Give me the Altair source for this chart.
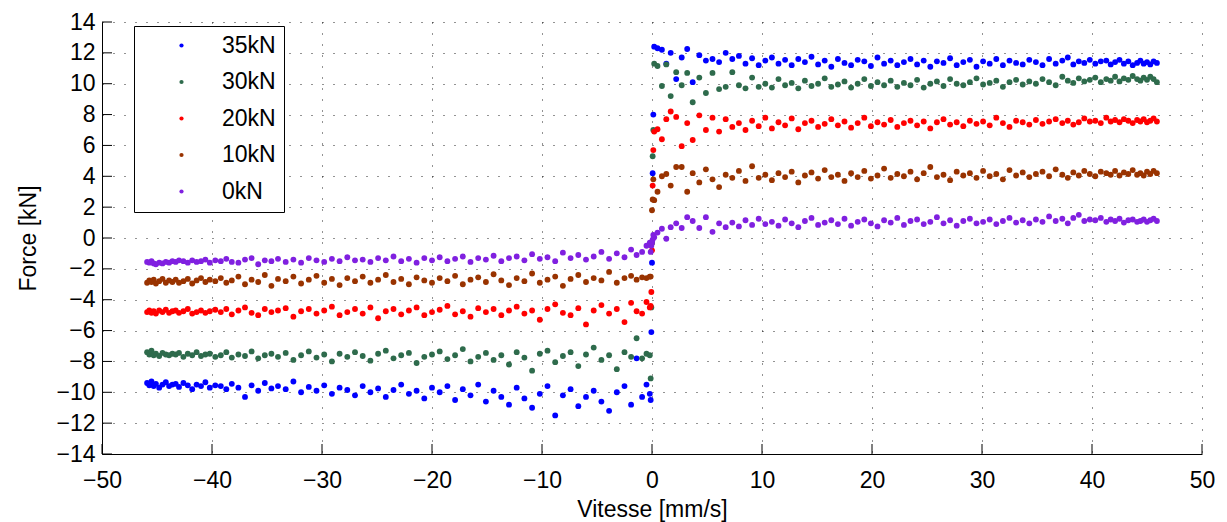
import altair as alt
import pandas as pd

# ---------------- data ----------------
series_names = ["35kN", "30kN", "20kN", "10kN", "0kN"]
series_colors = ["#0000ff", "#2e6b4c", "#ff0000", "#993300", "#8020e0"]

# velocity samples, negative branch
vit_neg = [
    -45.9, -45.7, -45.5, -45.3, -45.1, -44.8, -44.5, -44.2, -43.9, -43.6,
    -43.3, -43.0, -42.6, -42.2, -41.8, -41.4, -41.0, -40.6, -40.2, -39.7,
    -39.2, -38.7, -38.2, -37.6, -37.0, -36.4, -35.8, -35.2, -34.6, -34.0,
    -33.3, -32.6, -31.9, -31.2, -30.5, -29.8, -29.1, -28.4, -27.7, -27.0,
    -26.3, -25.6, -24.9, -24.2, -23.5, -22.8, -22.1, -21.4, -20.7, -20.0,
    -19.3, -18.6, -17.9, -17.2, -16.5, -15.8, -15.1, -14.4, -13.7, -13.0,
    -12.3, -11.6, -10.9, -10.2, -9.5, -8.8, -8.1, -7.4, -6.7, -6.0,
    -5.3, -4.6, -3.9, -3.2, -2.5, -1.9, -1.4, -0.9, -0.5, -0.2,
]
# velocity samples around zero (transition)
vit_zero = [-0.12, -0.06, 0.0, 0.06, 0.12]
# velocity samples, positive branch
vit_pos = [
    0.2, 0.5, 0.9, 1.3, 1.7, 2.2, 2.7, 3.2, 3.7, 4.3,
    4.9, 5.5, 6.1, 6.7, 7.3, 7.9, 8.5, 9.1, 9.7, 10.3,
    10.9, 11.5, 12.1, 12.7, 13.3, 13.9, 14.5, 15.1, 15.7, 16.3,
    16.9, 17.5, 18.1, 18.7, 19.3, 19.9, 20.5, 21.1, 21.7, 22.3,
    22.9, 23.5, 24.1, 24.7, 25.3, 25.9, 26.5, 27.1, 27.7, 28.3,
    28.9, 29.5, 30.1, 30.7, 31.3, 31.9, 32.5, 33.1, 33.7, 34.3,
    34.9, 35.5, 36.1, 36.7, 37.3, 37.8, 38.3, 38.8, 39.3, 39.8,
    40.3, 40.8, 41.3, 41.7, 42.1, 42.5, 42.9, 43.3, 43.7, 44.1,
    44.4, 44.7, 45.0, 45.3, 45.6, 45.9,
]

# forces [kN], negative branch
f35_neg = [
    -9.4, -9.55, -9.3, -9.6, -9.45, -9.7, -9.5, -9.35, -9.6, -9.5,
    -9.45, -9.65, -9.4, -9.55, -9.8, -9.5, -9.6, -9.35, -9.7, -9.55,
    -9.6, -9.8, -9.45, -9.7, -10.3, -9.55, -9.9, -9.4, -9.75, -9.6,
    -9.8, -9.3, -10.0, -9.65, -9.9, -9.55, -10.1, -9.7, -9.85, -10.2,
    -9.6, -10.0, -9.75, -10.3, -9.85, -9.5, -10.1, -9.9, -10.4, -9.7,
    -10.0, -9.6, -10.5, -9.8, -10.2, -9.5, -10.6, -9.9, -10.3, -10.8,
    -9.7, -10.4, -11.0, -10.1, -9.6, -11.5, -10.2, -9.8, -10.9, -10.3,
    -9.9, -10.6, -11.2, -10.0, -9.6, -10.8, -7.8, -10.3, -9.5, -10.1,
]
f30_neg = [
    -7.4, -7.55, -7.3, -7.6, -7.5, -7.65, -7.45, -7.55, -7.6, -7.5,
    -7.55, -7.45, -7.7, -7.5, -7.6, -7.4, -7.65, -7.55, -7.5, -7.7,
    -7.6, -7.4, -7.75, -7.55, -7.65, -7.35, -7.8, -7.6, -7.5, -7.7,
    -7.45, -7.9, -7.6, -7.35, -7.75, -7.55, -8.0, -7.5, -7.7, -7.4,
    -7.65, -7.95, -7.5, -7.3, -7.8, -7.6, -7.45, -8.1, -7.7, -7.55,
    -7.35, -7.85, -7.6, -7.2, -8.0, -7.7, -7.45, -7.9, -7.6, -8.2,
    -7.4, -7.75, -8.6, -7.5, -7.3, -8.05, -7.65, -7.4, -8.3, -7.55,
    -7.1, -7.9, -7.6, -8.5, -7.4, -7.7, -6.5, -7.8, -7.5, -7.6,
]
f20_neg = [
    -4.8, -4.7, -4.85, -4.75, -4.9, -4.7, -4.8, -4.65, -4.85, -4.75,
    -4.7, -4.85, -4.75, -4.6, -4.9, -4.8, -4.7, -4.85, -4.75, -4.65,
    -4.8, -4.6, -4.95, -4.7, -4.5, -4.85, -5.0, -4.6, -4.8, -4.7,
    -4.55, -5.1, -4.75, -4.6, -4.9, -4.7, -4.45, -5.0, -4.8, -4.6,
    -4.9, -4.5, -5.2, -4.75, -4.6, -4.95, -4.7, -4.5, -5.0, -4.8,
    -4.65, -4.4, -4.95, -4.75, -5.1, -4.55, -4.8, -4.6, -5.0, -4.7,
    -4.45, -4.9, -4.7, -5.3, -4.6, -4.3, -4.85, -5.0, -4.55, -5.6,
    -4.7, -4.35, -4.9, -4.6, -5.45, -4.2, -4.75, -4.9, -4.15, -4.5,
]
f10_neg = [
    -2.9, -2.75, -2.85, -2.7, -2.95, -2.8, -2.65, -2.9, -2.75, -2.85,
    -2.7, -2.9, -2.8, -2.65, -2.95, -2.75, -2.6, -2.85, -2.7, -2.8,
    -2.6, -2.9, -2.75, -2.5, -3.0, -2.7, -2.85, -2.4, -3.1, -2.65,
    -2.8, -2.5, -2.95, -2.7, -2.45, -2.9, -2.65, -3.05, -2.6, -2.8,
    -2.5, -2.9, -2.7, -2.4, -2.85, -2.65, -3.0, -2.55, -2.75, -2.9,
    -2.6, -2.8, -2.45, -3.0, -2.7, -2.55, -2.85, -2.35, -2.75, -3.05,
    -2.6, -2.8, -2.3, -2.9, -2.7, -2.5, -3.1, -2.65, -2.4, -2.85,
    -2.6, -2.75, -2.2, -2.9, -2.6, -2.45, -2.7, -2.55, -2.6, -2.5,
]
f0_neg = [
    -1.55, -1.6, -1.5, -1.65, -1.7, -1.6, -1.65, -1.55, -1.6, -1.5,
    -1.55, -1.45, -1.5, -1.6, -1.45, -1.55, -1.5, -1.4, -1.6, -1.45,
    -1.5, -1.35, -1.55, -1.6, -1.4, -1.3, -1.7, -1.45, -1.5, -1.35,
    -1.55, -1.4, -1.6, -1.3, -1.45, -1.55, -1.35, -1.5, -1.25, -1.45,
    -1.4, -1.55, -1.3, -1.45, -1.2, -1.5, -1.35, -1.6, -1.3, -1.45,
    -1.25, -1.5, -1.35, -1.2, -1.55, -1.3, -1.4, -1.15, -1.5, -1.3,
    -1.2, -1.45, -1.05, -1.35, -1.25, -1.5, -0.95, -1.3, -1.1, -1.4,
    -1.2, -0.9, -1.35, -1.0, -1.25, -0.75, -1.1, -0.9, -0.5, -0.3,
]

# forces [kN] around zero velocity
f35_zero = [-10.5, -6.1, -1.6, 4.2, 8.0]
f30_zero = [-9.1, -4.5, -0.3, 5.3, 7.0]
f20_zero = [-4.4, -3.5, -0.8, 3.4, 5.7]
f10_zero = [-2.5, -0.4, 1.8, 2.5, 3.8]
f0_zero = [-0.9, -0.5, -0.3, -0.1, 0.2]

# forces [kN], positive branch
f35_pos = [
    12.4, 12.3, 12.2, 11.3, 12.0, 10.3, 11.7, 12.25, 10.1, 11.85,
    11.5, 11.6, 11.4, 12.0, 11.6, 11.8, 11.3, 11.65, 11.2, 11.5,
    11.7, 11.3, 11.55, 11.2, 11.6, 11.4, 11.75, 11.25, 11.5, 11.1,
    11.6, 11.35, 11.2, 11.55, 11.45, 11.15, 11.7, 11.3, 11.5, 11.2,
    11.4, 11.6, 11.25, 11.5, 11.1, 11.45, 11.35, 11.65, 11.2, 11.4,
    11.55, 11.1, 11.45, 11.3, 11.6, 11.2, 11.5, 11.35, 11.25, 11.55,
    11.4, 11.2, 11.6, 11.3, 11.5, 11.7, 11.25, 11.45, 11.35, 11.55,
    11.3, 11.45, 11.5, 11.25, 11.4, 11.55, 11.3, 11.45, 11.2, 11.35,
    11.5, 11.3, 11.4, 11.25, 11.45, 11.35,
]
f30_pos = [
    11.3, 11.15, 9.85, 11.25, 9.2, 10.75, 9.9, 10.7, 8.8, 10.4,
    9.4, 10.7, 9.65, 9.8, 10.75, 9.9, 9.7, 10.4, 9.8, 10.0,
    9.75, 10.3, 9.9, 10.05, 9.7, 10.2, 9.85, 10.0, 10.35, 9.8,
    9.95, 10.15, 9.75, 10.0, 10.3, 9.85, 10.1, 9.9, 10.2, 9.8,
    10.05, 9.9, 10.25, 9.75, 10.0, 10.15, 9.85, 10.3, 10.0, 9.9,
    10.1, 10.35, 9.95, 10.05, 10.2, 9.8, 10.1, 10.25, 9.95, 10.15,
    10.0, 10.3, 10.1, 9.9, 10.45, 10.2, 10.05, 10.35, 10.15, 10.25,
    10.4, 10.1, 10.3, 10.2, 10.45, 10.15, 10.35, 10.25, 10.5, 10.3,
    10.2, 10.4, 10.25, 10.45, 10.3, 10.1,
]
f20_pos = [
    6.9, 7.05, 6.4, 7.7, 8.2, 7.85, 5.95, 7.45, 6.35, 7.95,
    7.0, 7.8, 6.9, 7.7, 7.2, 7.45, 7.0, 7.6, 7.25, 7.8,
    7.1, 7.5, 7.3, 7.75, 7.05, 7.45, 7.6, 7.2, 7.4, 7.7,
    7.3, 7.55, 7.15, 7.45, 7.8, 7.25, 7.5, 7.35, 7.65, 7.2,
    7.45, 7.6, 7.3, 7.55, 7.1, 7.5, 7.7, 7.35, 7.5, 7.25,
    7.6, 7.4, 7.55, 7.3, 7.8, 7.45, 7.2, 7.6, 7.5, 7.35,
    7.65, 7.4, 7.55, 7.7, 7.45, 7.6, 7.35, 7.5, 7.75, 7.55,
    7.6, 7.45, 7.8, 7.55, 7.65, 7.5, 7.7, 7.6, 7.45, 7.65,
    7.55, 7.7, 7.5, 7.6, 7.75, 7.55,
]
f10_pos = [
    2.45, 3.0, 4.0, 4.15, 3.4, 4.6, 4.6, 3.0, 4.2, 3.6,
    4.45, 3.8, 3.3, 4.1, 3.9, 4.35, 3.7, 4.65, 3.9, 4.1,
    3.75, 4.2, 3.95, 4.3, 3.6, 4.05, 4.25, 3.85, 4.4, 3.95,
    4.1, 3.7, 4.2, 3.95, 4.35, 3.85, 4.05, 4.5, 3.9, 4.15,
    4.0, 4.3, 3.8, 4.2, 4.6, 3.95, 4.1, 3.75, 4.3, 4.05,
    4.2, 3.9, 4.35, 4.0, 4.15, 3.8, 4.4, 4.05, 4.25, 3.95,
    4.15, 4.3, 4.0, 4.45, 4.1, 3.9, 4.25, 4.05, 4.35, 4.15,
    4.0, 4.3, 4.2, 4.1, 4.35, 4.05, 4.25, 4.15, 4.4, 4.1,
    4.2, 4.05, 4.3, 4.15, 4.35, 4.2,
]
f0_pos = [
    0.05, 0.35, 0.6, -0.05, 0.7, 0.95, 0.65, 1.35, 1.1, 0.65,
    1.35, 0.4, 0.95, 0.7, 1.0, 0.75, 1.15, 0.85, 1.25, 0.9,
    1.05, 0.8, 1.2, 0.95, 0.7, 1.1, 1.3, 0.85, 1.0, 1.15,
    0.9, 1.25, 0.8, 1.05, 1.2, 0.95, 0.75, 1.15, 1.0, 1.3,
    0.85, 1.1, 1.2, 0.9, 1.05, 1.35, 0.95, 1.15, 0.8, 1.1,
    1.25, 0.95, 1.05, 1.2, 0.9, 1.1, 1.3, 1.0, 1.15, 0.95,
    1.2, 1.05, 1.4, 1.1, 1.25, 0.95, 1.3, 1.5, 1.1, 1.2,
    1.15, 1.3, 1.05, 1.2, 1.1, 1.25, 1.0, 1.15, 1.2, 1.05,
    1.1, 1.2, 1.05, 1.15, 1.25, 1.1,
]

x_ticks = [-50, -40, -30, -20, -10, 0, 10, 20, 30, 40, 50]
y_ticks = [-14, -12, -10, -8, -6, -4, -2, 0, 2, 4, 6, 8, 10, 12, 14]

# ---------------- table ----------------
forces = {
    "35kN": (f35_neg, f35_zero, f35_pos),
    "30kN": (f30_neg, f30_zero, f30_pos),
    "20kN": (f20_neg, f20_zero, f20_pos),
    "10kN": (f10_neg, f10_zero, f10_pos),
    "0kN": (f0_neg, f0_zero, f0_pos),
}
rows = []
for order, name in enumerate(series_names):
    fn, fz, fp = forces[name]
    for xs, ys in ((vit_neg, fn), (vit_zero, fz), (vit_pos, fp)):
        for x, y in zip(xs, ys):
            rows.append({"v": x, "f": y, "serie": name, "o": order})
df = pd.DataFrame(rows)

FONT = "Liberation Sans"
FS = 23

xscale = alt.Scale(domain=[-50, 50], nice=False, zero=False)
yscale = alt.Scale(domain=[-14, 14], nice=False, zero=False)

axis_style = dict(
    labelFont=FONT, labelFontSize=FS, labelColor="black", labelOverlap=False,
    labelFlush=False,
    titleFont=FONT, titleFontSize=FS, titleFontWeight="normal", titleColor="black",
    domainColor="black", domainWidth=1, tickSize=0,
    grid=True, gridColor="#000000", gridDash=[1, 10], gridWidth=1, gridOpacity=0.85,
)
x_axis = alt.Axis(
    values=x_ticks, title="Vitesse [mm/s]", labelPadding=33,
    labelBaseline="alphabetic", titleY=62, titleBaseline="alphabetic",
    **axis_style,
)
y_axis = alt.Axis(
    values=y_ticks, title="Force [kN]", labelPadding=7,
    titleX=-74, titleY=216, titleAngle=-90, titleBaseline="middle",
    titleAlign="center", **axis_style,
)

points = alt.Chart(df).mark_point(filled=True, size=34, opacity=1).encode(
    x=alt.X("v:Q", scale=xscale, axis=x_axis),
    y=alt.Y("f:Q", scale=yscale, axis=y_axis),
    color=alt.Color(
        "serie:N",
        scale=alt.Scale(domain=series_names, range=series_colors),
        legend=alt.Legend(
            title=None, orient="none", legendX=32, legendY=4,
            fillColor="white", strokeColor="black", padding=8,
            symbolType="circle", symbolSize=18, symbolStrokeWidth=0,
            symbolOffset=28, labelOffset=29, rowPadding=12.5,
            labelFontSize=FS, labelFont=FONT, labelColor="black",
            labelLimit=200, labelExpr="datum.label + '\u2003'",
        ),
    ),
    order=alt.Order("o:Q"),
)

xt_df = pd.DataFrame({"t": x_ticks})
yt_df = pd.DataFrame({"t": y_ticks})

# inward major tick marks (MATLAB style)
xtick_rules = alt.Chart(xt_df).mark_rule(color="black", strokeWidth=1, y2Offset=-10).encode(
    x=alt.X("t:Q", scale=xscale, axis=x_axis, title="Vitesse [mm/s]"),
    y=alt.datum(-14, scale=yscale, axis=y_axis, title="Force [kN]"),
    y2=alt.datum(-14),
)
ytick_rules = alt.Chart(yt_df).mark_rule(color="black", strokeWidth=1, x2Offset=10).encode(
    y=alt.Y("t:Q", scale=yscale, axis=y_axis, title="Force [kN]"),
    x=alt.datum(-50, scale=xscale, axis=x_axis, title="Vitesse [mm/s]"),
    x2=alt.datum(-50),
)

chart = (
    alt.layer(points, xtick_rules, ytick_rules)
    .properties(
        width=1100, height=432,
        autosize=alt.AutoSizeParams(type="none"),
        padding={"left": 94, "top": 14, "right": 15, "bottom": 68},
        background="white",
    )
    .configure_view(stroke=None)
)

chart.save("out.html", embed_options={"renderer": "svg", "actions": False})
